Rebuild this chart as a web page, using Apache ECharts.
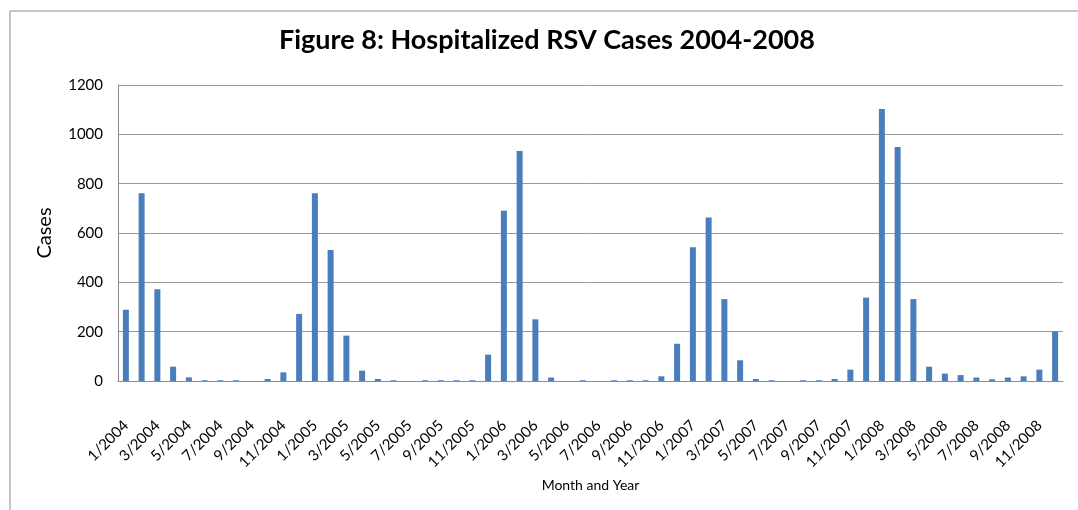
<!DOCTYPE html>
<html>
<head>
<meta charset="utf-8">
<script src="https://cdn.jsdelivr.net/npm/echarts@6/dist/echarts.min.js"></script>
<style>
  html, body { margin: 0; padding: 0; background: #fff; }
  #main { width: 1078px; height: 510px; }
</style>
</head>
<body>
<div id="main"></div>
<script>
var myChart = echarts.init(document.getElementById('main'));

var years = [2004, 2005, 2006, 2007, 2008];
var months = [1, 2, 3, 4, 5, 6, 7, 8, 9, 10, 11, 12];
var cases2004 = [289, 761, 372, 58, 15, 3, 3, 3, 0, 8, 35, 272];
var cases2005 = [761, 531, 184, 42, 8, 3, 0, 3, 3, 3, 3, 107];
var cases2006 = [690, 932, 250, 14, 0, 3, 0, 3, 3, 3, 19, 151];
var cases2007 = [542, 663, 332, 84, 8, 3, 0, 3, 3, 8, 46, 338];
var cases2008 = [1103, 949, 332, 58, 30, 24, 14, 7, 14, 19, 46, 201];
var yTicks = [0, 200, 400, 600, 800, 1000, 1200];

var categories = [];
years.forEach(function (y) {
    months.forEach(function (m) {
        categories.push(m + '/' + y);
    });
});
var values = [].concat(cases2004, cases2005, cases2006, cases2007, cases2008);

var font = 'Lato, "Liberation Sans", sans-serif';

option = {
    backgroundColor: '#fff',
    animation: false,
    title: {
        text: 'Figure 8: Hospitalized RSV Cases 2004-2008',
        left: 279,
        top: 27,
        padding: 0,
        textStyle: {
            fontFamily: font,
            fontWeight: 'bold',
            fontSize: 27,
            color: '#000'
        }
    },
    graphic: [{
        type: 'rect',
        left: 7.5,
        top: 8.5,
        shape: { width: 1100, height: 600 },
        style: { fill: 'none', stroke: '#8c8c8c', lineWidth: 1 },
        silent: true
    }],
    grid: {
        left: 118,
        right: 15,
        top: 85,
        bottom: 129
    },
    xAxis: {
        type: 'category',
        data: categories,
        name: 'Month and Year',
        nameLocation: 'middle',
        nameGap: 97,
        nameTextStyle: { fontFamily: font, fontSize: 14, color: '#000' },
        axisLine: { lineStyle: { color: '#8c8c8c', width: 1 } },
        axisTick: { show: false },
        axisLabel: {
            interval: 1,
            rotate: 45,
            margin: 42,
            fontFamily: font,
            fontSize: 15,
            color: '#000'
        }
    },
    yAxis: {
        type: 'value',
        min: yTicks[0],
        max: yTicks[yTicks.length - 1],
        interval: 200,
        name: 'Cases',
        nameLocation: 'middle',
        nameGap: 63,
        nameTextStyle: { fontFamily: font, fontSize: 20, color: '#000' },
        axisLine: { show: true, lineStyle: { color: '#8c8c8c', width: 1 } },
        axisTick: { show: false },
        axisLabel: {
            margin: 15,
            fontFamily: font,
            fontSize: 15,
            color: '#000',
            formatter: function (v) { return String(v); }
        },
        splitLine: { lineStyle: { color: '#9a9a9a', width: 1 } }
    },
    series: [{
        name: 'Cases',
        type: 'bar',
        barWidth: 6,
        data: values,
        itemStyle: { color: '#4a7ebb' }
    }]
};

myChart.setOption(option);
</script>
</body>
</html>
